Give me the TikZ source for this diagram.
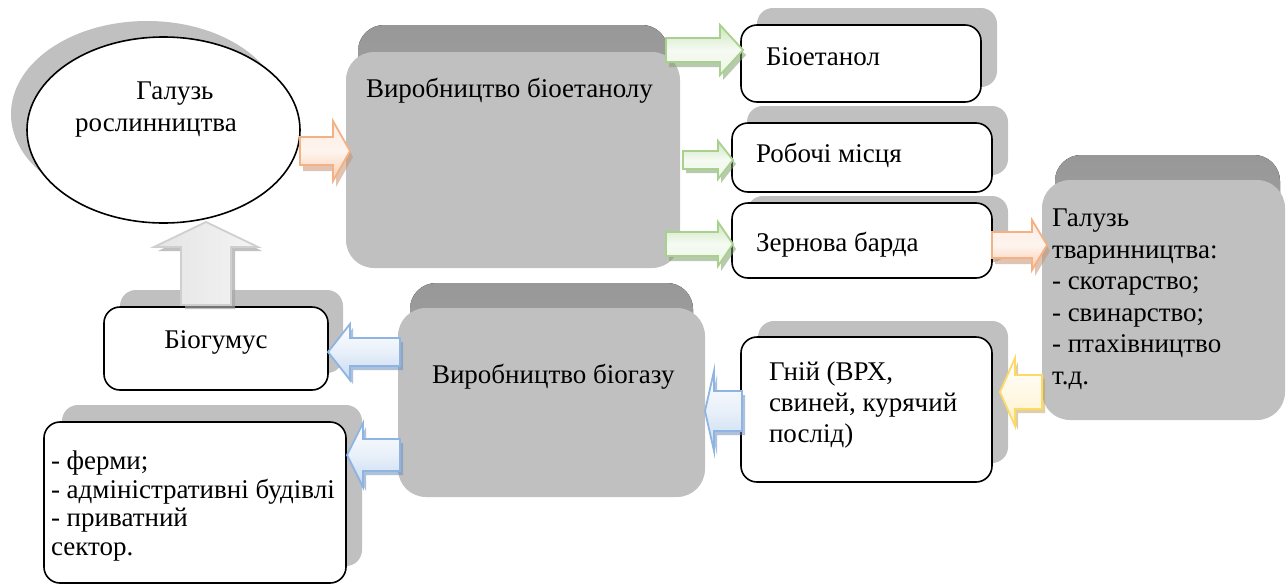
\documentclass[tikz,border=0pt]{standalone}
\usepackage{fontspec}
\setmainfont{Liberation Serif}
\newfontfamily\tnr{Liberation Serif}
\usetikzlibrary{shapes.geometric}
\definecolor{fgray}{HTML}{C0C0C0}
\definecolor{tgrayA}{HTML}{989898}
\definecolor{tgrayB}{HTML}{ABABAB}
\definecolor{sgray}{HTML}{C0C0C0}
\definecolor{gline}{HTML}{A9D18E}
\definecolor{gfill}{HTML}{CDE6BE}
\definecolor{gshad}{HTML}{7F9F6A}
\definecolor{oline}{HTML}{F4B183}
\definecolor{ofill}{HTML}{F8CBAD}
\definecolor{oshad}{HTML}{C89272}
\definecolor{bline}{HTML}{8EB4E3}
\definecolor{bfill}{HTML}{C6D9F1}
\definecolor{bshad}{HTML}{6F8FB8}
\definecolor{yline}{HTML}{FFD966}
\definecolor{yfill}{HTML}{FFF2CC}
\definecolor{yshad}{HTML}{BFA24F}
\definecolor{uline}{HTML}{CFCFCF}
\definecolor{ufill}{HTML}{E4E4E4}
\definecolor{ushad}{HTML}{A6A6A6}
\tikzset{
  bigbox/.style={fill=fgray, draw=none, rounded corners=14pt, inner sep=0pt, outer sep=0pt},
  backtop/.style={top color=tgrayA, bottom color=tgrayB, rounded corners=13pt},
  wbox/.style={fill=white, draw=black, line width=0.8pt, rounded corners=8pt, inner sep=0pt, outer sep=0pt},
  boxshadow/.style={fill=sgray, rounded corners=8pt},
  txt/.style={inner sep=0pt, outer sep=0pt, anchor=base west, align=left, font=\tnr\fontsize{13.5pt}{16pt}\selectfont},
  ctxt/.style={inner sep=0pt, outer sep=0pt, anchor=base, font=\tnr\fontsize{13.5pt}{16pt}\selectfont},
  garr/.style={draw=gline, line width=0.9pt, top color=gfill, bottom color=gfill!35, middle color=gfill!20},
  gsh/.style={fill=gshad, opacity=0.55},
  oarr/.style={draw=oline, line width=0.9pt, top color=ofill!35, bottom color=ofill, middle color=ofill!20},
  osh/.style={fill=oshad, opacity=0.55},
  barr/.style={draw=bline, line width=0.9pt, top color=white, bottom color=bfill, middle color=bfill!40},
  bsh/.style={fill=bshad, opacity=0.55},
  yarr/.style={draw=yline, line width=0.9pt, top color=white, bottom color=yfill, middle color=yfill!50},
  ysh/.style={fill=yshad, opacity=0.5},
  uarr/.style={draw=uline, line width=0.9pt, left color=ufill, right color=ufill!40},
  ush/.style={fill=ushad, opacity=0.7},
}
% horizontal block arrow: start x, head-base x, tip x, centre y, body half, head half
\def\hpath#1#2#3#4#5#6{(#1,#4-#5) -- (#2,#4-#5) -- (#2,#4-#6) -- (#3,#4) -- (#2,#4+#6) -- (#2,#4+#5) -- (#1,#4+#5) -- cycle}
% vertical (upward) block arrow: start y, head-base y, tip y, centre x, body half, head half
\def\vpath#1#2#3#4#5#6{(#4-#5,#1) -- (#4-#5,#2) -- (#4-#6,#2) -- (#4,#3) -- (#4+#6,#2) -- (#4+#5,#2) -- (#4+#5,#1) -- cycle}
\begin{document}
\begin{tikzpicture}[x=0.5pt,y=-0.5pt]
\useasboundingbox (0,0) rectangle (1286,584);
\fill[white] (0,0) rectangle (1286,584);

% ---------- big grey 3D boxes ----------
\fill[backtop] (358,25) rectangle (668,240);
\node[bigbox, minimum width=167pt, minimum height=108pt] (b1) at (513,160) {};
\fill[backtop] (410,283) rectangle (693,470);
\node[bigbox, minimum width=153.5pt, minimum height=94.5pt] (b2) at (551.5,402.5) {};
\fill[backtop] (1055,155) rectangle (1280,400);
\node[bigbox, minimum width=121.5pt, minimum height=120pt] (r) at (1163.5,300) {};

% ---------- ellipse ----------
\fill[sgray] (147,114) ellipse [x radius=136, y radius=93];
\node[draw=black, line width=0.8pt, fill=white, ellipse, inner sep=0pt, minimum width=136.5pt, minimum height=93pt] (ell) at (163.5,130) {};

% ---------- white boxes with shadows ----------
\fill[boxshadow] (757,8) rectangle (997,87);
\node[wbox, minimum width=120pt, minimum height=38.5pt] (e1) at (861,63.5) {};
\fill[boxshadow] (747,106) rectangle (1008,175);
\node[wbox, minimum width=130pt, minimum height=34.5pt] (e2) at (862,157.5) {};
\fill[boxshadow] (747,196) rectangle (1008,262);
\node[wbox, minimum width=130pt, minimum height=37.5pt] (e3) at (862,240.5) {};
\fill[boxshadow] (758,321) rectangle (1008,463);
\node[wbox, minimum width=125.5pt, minimum height=72.5pt] (g) at (866.5,409.5) {};
\fill[boxshadow] (120,290) rectangle (343,373);
\node[wbox, minimum width=112pt, minimum height=41.5pt] (h) at (216,348.5) {};
\fill[boxshadow] (62,405) rectangle (362,566);
\node[wbox, minimum width=151pt, minimum height=80.5pt] (f) at (195,502.5) {};

% ---------- block arrows ----------
\fill[osh, shift={(3,6)}] \hpath{300}{333}{350}{151}{14}{30};
\draw[oarr] \hpath{300}{333}{350}{151}{14}{30};
\fill[gsh, shift={(3,5)}] \hpath{666}{720}{743}{50}{12}{25};
\draw[garr] \hpath{666}{720}{743}{50}{12}{25};
\fill[gsh, shift={(3,4)}] \hpath{683}{718}{733}{160}{9}{19};
\draw[garr] \hpath{683}{718}{733}{160}{9}{19};
\fill[gsh, shift={(3,5)}] \hpath{666}{718}{733}{244}{12}{22};
\draw[garr] \hpath{666}{718}{733}{244}{12}{22};
\fill[osh, shift={(3,6)}] \hpath{992}{1032}{1047}{245}{13}{25};
\draw[oarr] \hpath{992}{1032}{1047}{245}{13}{25};
\fill[ysh, shift={(3,4)}] \hpath{1042}{1015}{1000}{392}{17}{34};
\draw[yarr] \hpath{1042}{1015}{1000}{392}{17}{34};
\fill[bsh, shift={(3,4)}] \hpath{742}{714}{705}{411}{20}{40};
\draw[barr] \hpath{742}{714}{705}{411}{20}{40};
\fill[bsh, shift={(3,4)}] \hpath{400}{350}{328}{352}{14}{28};
\draw[barr] \hpath{400}{350}{328}{352}{14}{28};
\fill[bsh, shift={(3,4)}] \hpath{400}{363}{347}{455}{16}{32};
\draw[barr] \hpath{400}{363}{347}{455}{16}{32};
\fill[ush, shift={(4,4)}] \vpath{305}{247}{222}{206}{25}{52};
\draw[uarr] \vpath{305}{247}{222}{206}{25}{52};

% ---------- texts ----------
\node[ctxt] (t1) at (175,99) {Галузь};
\node[ctxt] (t2) at (156,131) {рослинництва};
\node[txt] (t3) at (366,97) {Виробництво біоетанолу};
\node[txt] (t4) at (766,65) {Біоетанол};
\node[txt] (t5) at (756,162) {Робочі місця};
\node[txt] (t6) at (756,251) {Зернова барда};
\node[txt] (t7) at (432,383) {Виробництво біогазу};
\node[ctxt] (t8) at (216,348) {Біогумус};
\node[txt, font=\tnr\fontsize{13.5pt}{15.75pt}\selectfont] (t9) at (1052,384) {Галузь\\тваринництва:\\- скотарство;\\- свинарство;\\- птахівництво\\т.д.};
\node[txt, font=\tnr\fontsize{13.5pt}{15.5pt}\selectfont] (t10) at (769,442) {Гній (ВРХ,\\свиней, курячий\\послід)};
\node[txt, font=\tnr\fontsize{13.5pt}{14.2pt}\selectfont] (t11) at (51,555) {- ферми;\\- адміністративні будівлі\\- приватний\\сектор.};
\end{tikzpicture}
\end{document}
